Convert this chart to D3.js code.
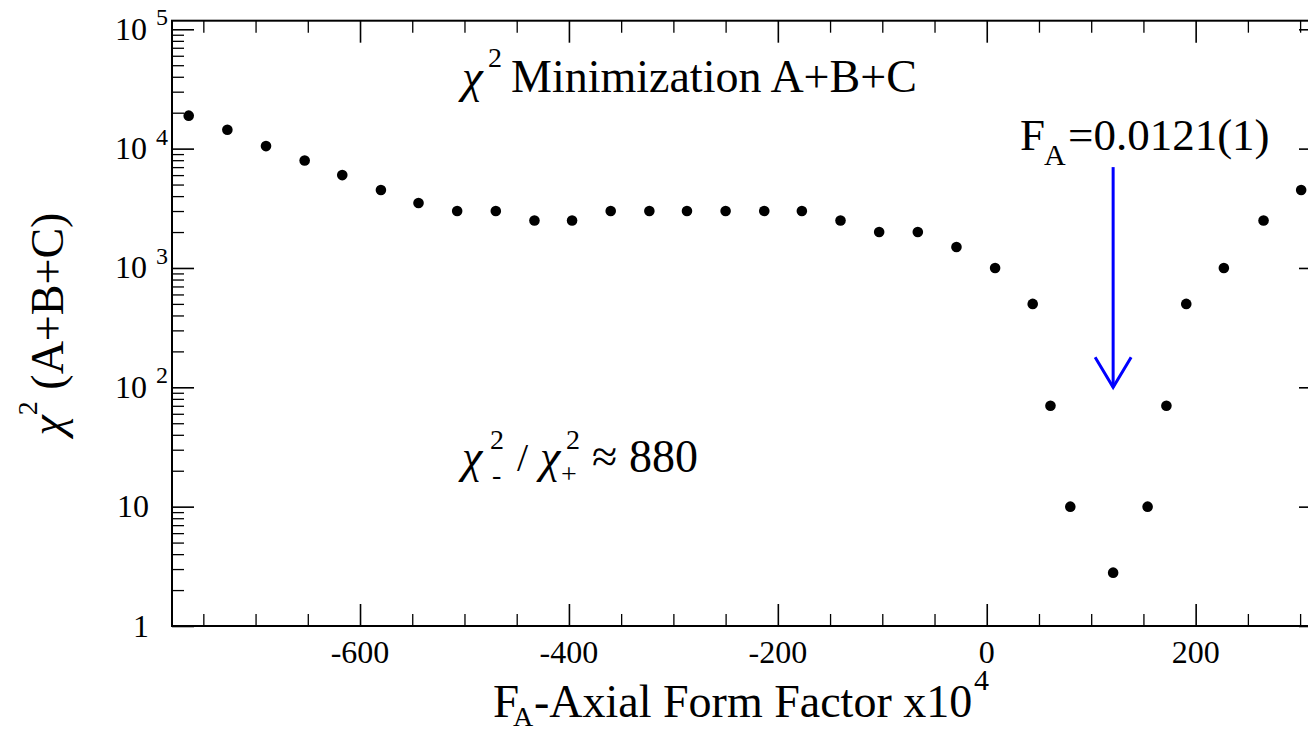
<!DOCTYPE html>
<html>
<head>
<meta charset="UTF-8">
<title>chi2 minimization</title>
<style>
body { margin: 0; background: #ffffff; }
text { font-family: "Liberation Serif", "Times New Roman", serif; fill: #000; }
.chi { font-style: italic; }
</style>
</head>
<body>
<script src="https://cdn.jsdelivr.net/npm/d3@7/dist/d3.min.js"></script>
<script>
// F_A (x10^4) scan points and chi^2 (A+B+C)
var faValues = [-764, -727, -690, -653, -617, -580, -544, -507, -470, -433,
                -397, -360, -323, -287, -250, -213, -177, -140, -103, -66,
                -29, 8, 44, 61, 80, 121, 154, 172, 191, 227, 265, 301];
var chi2Values = [18900, 14400, 10500, 7950, 6000, 4500, 3500, 3000, 3000, 2500,
                  2500, 3000, 3000, 3000, 3000, 3000, 3000, 2500, 2000, 2000,
                  1500, 1000, 500, 70, 10, 2.8, 10, 70, 500, 1000, 2500, 4500];
var xMajorTicks = [-600, -400, -200, 0, 200];
var yDecades = [1, 10, 100, 1000, 10000, 100000];
var bestFit = 121;          // F_A = 0.0121(1)
var arrowFrom = 7000, arrowTo = 100;

var width = 1308, height = 732;
var pLeft = 172, pTop = 20.7, pRight = 1321, pBottom = 626;

var svg = d3.select("body").append("svg")
  .attr("width", width)
  .attr("height", height);

var x = d3.scaleLinear().domain([-780, 320]).range([pLeft, pRight]);
var y = d3.scaleLog().domain([1, 1.18e5]).range([pBottom, pTop]);

var xMinor = d3.range(-750, 320, 50).filter(function(v){ return v % 200 != 0; });
var yMinor = [];
yDecades.slice(0, -1).forEach(function(d){
  for (var m = 2; m < 10; m++) yMinor.push(d * m);
});

// ticks on all four sides, pointing inward
var addAxis = function(axis, tx, ty, values, size, w) {
  var g = svg.append("g")
    .attr("transform", "translate(" + tx + "," + ty + ")")
    .call(axis.tickValues(values).tickSize(size).tickFormat(""));
  g.select(".domain").remove();
  g.selectAll(".tick line").attr("stroke", "#000").attr("stroke-width", w);
  return g;
};
addAxis(d3.axisBottom(x), 0, pBottom, xMajorTicks, -22, 1.6);
addAxis(d3.axisBottom(x), 0, pBottom, xMinor, -12, 1.3);
addAxis(d3.axisTop(x), 0, pTop, xMajorTicks, -22, 1.6);
addAxis(d3.axisTop(x), 0, pTop, xMinor, -12, 1.3);
addAxis(d3.axisLeft(y), pLeft, 0, yDecades, -22, 1.6);
addAxis(d3.axisLeft(y), pLeft, 0, yMinor, -12, 1.3);
addAxis(d3.axisRight(y), pRight, 0, yDecades, -22, 1.6);
addAxis(d3.axisRight(y), pRight, 0, yMinor, -12, 1.3);

svg.append("rect")
  .attr("x", pLeft).attr("y", pTop)
  .attr("width", pRight - pLeft).attr("height", pBottom - pTop)
  .attr("fill", "none").attr("stroke", "#000").attr("stroke-width", 2);

// x tick labels
svg.selectAll(".xlab").data(xMajorTicks).enter().append("text")
  .attr("class", "xlab")
  .attr("x", function(d){ return x(d); })
  .attr("y", 663)
  .attr("text-anchor", "middle")
  .attr("font-size", 32)
  .text(function(d){ return d; });

// y tick labels: 1, 10, 10^2 ...
yDecades.forEach(function(d){
  var p = Math.round(Math.log10(d));
  var yy = y(d);
  if (p < 2) {
    svg.append("text")
      .attr("x", 149).attr("y", yy + 10.5)
      .attr("text-anchor", "end")
      .attr("font-size", 32)
      .text(d);
  } else {
    svg.append("text")
      .attr("x", 147).attr("y", yy + 10.5)
      .attr("text-anchor", "end")
      .attr("font-size", 32)
      .text("10");
    svg.append("text")
      .attr("x", 156).attr("y", yy - 4)
      .attr("font-size", 24)
      .text(p);
  }
});

// data points
svg.selectAll(".pt").data(faValues).enter().append("circle")
  .attr("class", "pt")
  .attr("cx", function(d){ return x(d); })
  .attr("cy", function(d, i){ return y(chi2Values[i]); })
  .attr("r", 5.3)
  .attr("fill", "#000");

// arrow at the minimum
var ax = x(bestFit), ay0 = y(arrowFrom), ay1 = y(arrowTo);
svg.append("line")
  .attr("x1", ax).attr("x2", ax).attr("y1", ay0).attr("y2", ay1)
  .attr("stroke", "#0000ff").attr("stroke-width", 3);
svg.append("path")
  .attr("d", "M" + (ax - 18) + "," + (ay1 - 30) + "L" + ax + "," + ay1 + "L" + (ax + 18) + "," + (ay1 - 30))
  .attr("fill", "none").attr("stroke", "#0000ff").attr("stroke-width", 3);

// annotations
var txt = function(s, tx, ty, size, cls) {
  return svg.append("text").attr("x", tx).attr("y", ty).attr("font-size", size)
    .attr("class", cls || null).text(s);
};
txt("\u03c7", 462, 91.7, 47, "chi");
txt("2", 488, 66.7, 28);
txt("Minimization A+B+C", 511, 91.7, 46);

txt("F", 1020, 150, 45);
txt("A", 1044, 165, 30);
txt("=0.0121(1)", 1068, 150, 45);

txt("\u03c7", 462, 471.7, 46, "chi");
txt("2", 490, 449.3, 28);
txt("-", 492, 484, 28);
txt("/", 517, 471, 40);
txt("\u03c7", 540, 471.7, 46, "chi");
txt("2", 566, 449.3, 28);
txt("+", 561, 483, 28);
txt("\u2248", 592, 471.7, 46);
txt("880", 629, 471.7, 46);

// axis titles
txt("F", 493, 716.7, 47);
txt("A", 513, 726, 28);
txt("-Axial Form Factor x10", 534, 716.7, 46);
txt("4", 974, 690, 30);

var yl = svg.append("text")
  .attr("transform", "translate(63,324) rotate(-90)")
  .attr("text-anchor", "middle")
  .attr("font-size", 46);
yl.append("tspan").attr("class", "chi").text("\u03c7");
yl.append("tspan").attr("dy", -26).attr("font-size", 28).text("2");
yl.append("tspan").attr("dy", 26).text(" (A+B+C)");
</script>
</body>
</html>
